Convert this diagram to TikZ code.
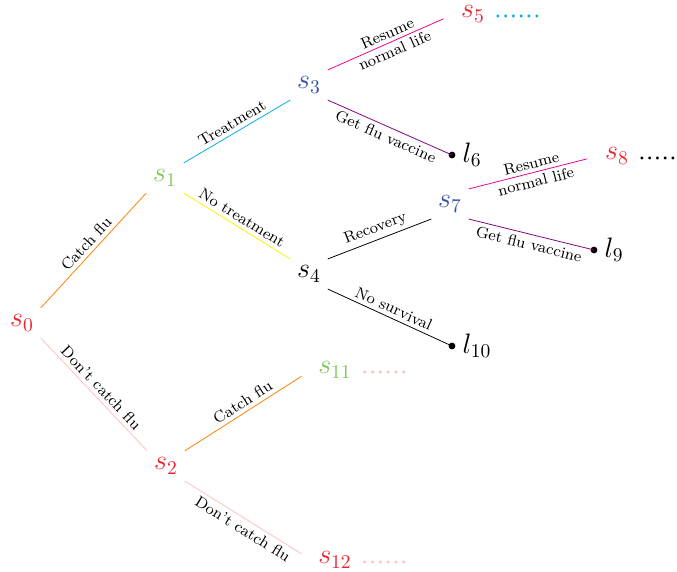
\documentclass[tikz,border=0pt]{standalone}
\usepackage{amsmath,amssymb}
\usepackage{tikz}
\usetikzlibrary{positioning}
\usepackage{xcolor}
\definecolor{statered}{RGB}{232,38,48}
\definecolor{stategreen}{RGB}{125,200,90}
\definecolor{stateblue}{RGB}{55,80,170}
\newcommand{\sixdots}{${\cdot}{\cdot}{\cdot}{\cdot}{\cdot}{\cdot}$}

\begin{document}
\begin{tikzpicture}[x=0.018cm, y=0.018cm,
  every node/.style={font=\Large},
  state/.style={text=#1},
  leaf/.style={circle, fill, inner sep=0pt, minimum size=3.5pt},
  act/.style={font=\footnotesize, text=black, midway, sloped, align=center, inner sep=2pt},
  more/.style={text=#1, inner sep=0pt, yshift=-1.5pt}
]
\useasboundingbox (0,0) rectangle (677,571);

% states
\node[state=statered]   (s0)  at (22,248)  {$s_0$};
\node[state=stategreen] (s1)  at (165,393) {$s_1$};
\node[state=statered]   (s2)  at (166,105) {$s_2$};
\node[state=stateblue]  (s3)  at (309,486) {$s_3$};
\node[state=black]      (s4)  at (309,297) {$s_4$};
\node[state=statered]   (s5)  at (473,557) {$s_5$};
\node[state=stateblue]  (s7)  at (450,367) {$s_7$};
\node[state=statered]   (s8)  at (617,415) {$s_8$};
\node[state=stategreen] (s11) at (335,201) {$s_{11}$};
\node[state=statered]   (s12) at (335,11)  {$s_{12}$};

% leaves
\node[leaf, label=right:$l_6$]    (l6)  at (452,416) {};
\node[leaf, label=right:$l_9$]    (l9)  at (594,321) {};
\node[leaf, label=right:$l_{10}$] (l10) at (452,225) {};

% unexplored branches
\node[more=cyan,  right=1pt of s5]  (s5more)  {\sixdots};
\node[more=black, right=1pt of s8]  (s8more)  {\sixdots};
\node[more=pink,  right=1pt of s11] (s11more) {\sixdots};
\node[more=pink,  right=1pt of s12] (s12more) {\sixdots};

% actions
\foreach \from/\out/\to/\in/\cut/\col/\side/\txt in {
  s0/north east/s1/south west/0pt/orange/above/Catch flu,
  s0/south east/s2/north west/0pt/pink/above/Don't catch flu,
  s1/north east/s3/south west/0pt/cyan/above/Treatment,
  s1/south east/s4/north west/0pt/yellow/above/No treatment,
  s3/north east/s5/west/6pt/magenta/midway/Resume\\normal life,
  s3/south east/l6/center/0pt/violet/below/Get flu vaccine,
  s4/north east/s7/south west/0pt/black/above/Recovery,
  s4/south east/l10/center/0pt/black/above/No survival,
  s7/north east/s8/west/6pt/magenta/midway/Resume\\normal life,
  s7/south east/l9/center/0pt/violet/below/Get flu vaccine,
  s2/north east/s11/west/6pt/orange/above/Catch flu,
  s2/south east/s12/west/6pt/pink/below/Don't catch flu}
  \draw[\col, shorten >=\cut] (\from.\out) -- node[act, \side] {\txt} (\to.\in);
\end{tikzpicture}
\end{document}
